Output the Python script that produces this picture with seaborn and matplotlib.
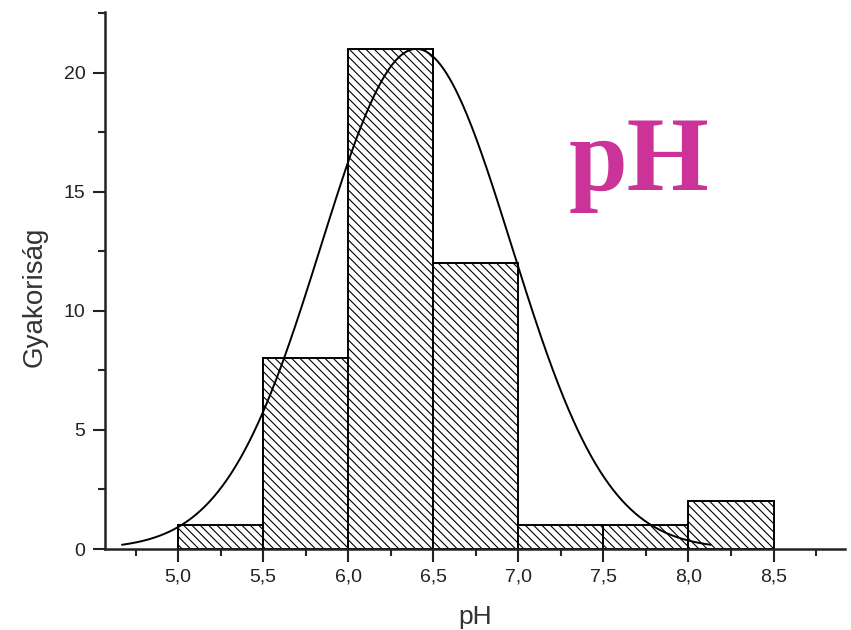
import numpy as np
import pandas as pd
import matplotlib
matplotlib.use("Agg")
import matplotlib.pyplot as plt
from matplotlib.ticker import MultipleLocator, FuncFormatter
import seaborn as sns

# pH class boundaries and observed frequencies
bin_edges = [5.0, 5.5, 6.0, 6.5, 7.0, 7.5, 8.0, 8.5]
frequencies = [1, 8, 21, 12, 1, 1, 2]

# fitted normal curve parameters
fit_mean = 6.40
fit_sd = 0.56
fit_peak = 21.0
fit_range = (4.67, 8.13)

sns.set_theme(style="ticks")
plt.rcParams["font.family"] = ["Liberation Sans", "DejaVu Sans"]
plt.rcParams["hatch.linewidth"] = 0.8
plt.rcParams["hatch.color"] = "black"

fig = plt.figure(figsize=(8.51, 6.30), dpi=100)
ax = fig.add_axes([105 / 851, 1 - 549 / 630, (845 - 105) / 851, (549 - 12) / 630])

centers = [(a + b) / 2 for a, b in zip(bin_edges[:-1], bin_edges[1:])]
hist_df = pd.DataFrame({"pH": centers, "n": frequencies})
sns.histplot(data=hist_df, x="pH", weights="n", bins=bin_edges, ax=ax,
             color="white", edgecolor="black", linewidth=1.4, alpha=1,
             hatch="\\\\\\\\", zorder=2)

xs = np.linspace(fit_range[0], fit_range[1], 400)
ys = fit_peak * np.exp(-0.5 * ((xs - fit_mean) / fit_sd) ** 2)
sns.lineplot(x=xs, y=ys, ax=ax, color="black", linewidth=1.4, zorder=3)

ax.set_xlim(4.57, 8.92)
ax.set_ylim(0, 22.55)
ax.xaxis.set_major_locator(MultipleLocator(0.5))
ax.xaxis.set_minor_locator(MultipleLocator(0.25))
ax.yaxis.set_major_locator(MultipleLocator(5))
ax.yaxis.set_minor_locator(MultipleLocator(2.5))
ax.xaxis.set_major_formatter(FuncFormatter(lambda v, p: f"{v:.1f}".replace(".", ",")))
ax.yaxis.set_major_formatter(FuncFormatter(lambda v, p: f"{v:.0f}"))

ax.tick_params(which="major", direction="out", length=9, width=1.5, labelsize=14,
               colors="#222222", pad=5)
ax.tick_params(which="minor", direction="out", length=5, width=1.5)
for side in ("top", "right"):
    ax.spines[side].set_visible(False)
for side in ("left", "bottom"):
    ax.spines[side].set_linewidth(1.8)
    ax.spines[side].set_color("#222222")

ax.set_xlabel("pH", fontsize=19, color="#333333", labelpad=14)
ax.set_ylabel("Gyakoriság", fontsize=20, color="#333333")
ax.yaxis.set_label_coords(-0.078, 0.469)

fig.text(639 / 851, 1 - 190 / 630, "pH", ha="center", va="baseline",
         fontsize=76, fontweight="bold", family=["Liberation Serif", "DejaVu Serif"],
         color="#cc3399")

fig.savefig("out.png", dpi=100)
